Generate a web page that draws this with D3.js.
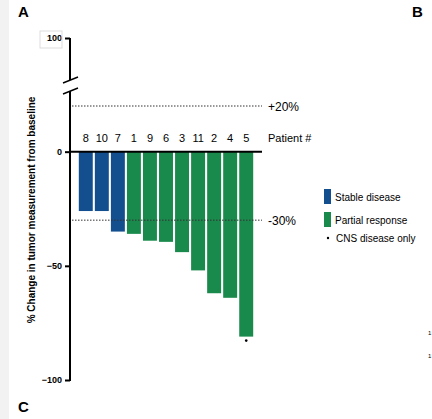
<!DOCTYPE html><html><head><meta charset="utf-8"><script src="https://cdn.jsdelivr.net/npm/d3@7"></script>
<style>body{margin:0;background:#fff}text{font-family:Arial,"Liberation Sans",sans-serif}</style></head><body><svg width="432" height="419"></svg>
<script>
const patients=["8","10","7","1","9","6","3","11","2","4","5"];
const changes=[-26,-26,-35,-36,-39,-39.5,-44,-52,-62,-64,-81];
const response=["Stable disease","Stable disease","Stable disease","Partial response","Partial response","Partial response","Partial response","Partial response","Partial response","Partial response","Partial response"];
const cnsOnly=["5"];
const yTicks=[-100,-50,0,100];
const refLines=[{v:20,label:"+20%"},{v:-30,label:"-30%"}];
const colors={"Stable disease":"#134f8f","Partial response":"#1a8a4c"};

const svg=d3.select("svg");
svg.append("rect").attr("width",9).attr("height",419).attr("fill","#f2f2f2");
const y=d3.scaleLinear().domain([-100,20,100]).range([380,106,38]);
const x=d3.scaleBand().domain(patients).range([78,254]).paddingInner(0.13).paddingOuter(0.05);
// bars
svg.selectAll("rect.bar").data(patients).join("rect").attr("class","bar")
 .attr("x",d=>x(d)).attr("width",x.bandwidth())
 .attr("y",y(0)).attr("height",(d,i)=>y(changes[i])-y(0))
 .attr("fill",(d,i)=>colors[response[i]]);
// ref lines
refLines.forEach(r=>{
 svg.append("line").attr("x1",72).attr("x2",262).attr("y1",y(r.v)).attr("y2",y(r.v))
  .attr("stroke","#333").attr("stroke-width",1).attr("stroke-dasharray","1.5,1.5");
 svg.append("text").attr("x",268).attr("y",y(r.v)+5).attr("font-size",12).text(r.label);
});
// zero line
svg.append("line").attr("x1",70).attr("x2",262).attr("y1",y(0)).attr("y2",y(0)).attr("stroke","#000").attr("stroke-width",2);
// axis
const ax=svg.append("g").attr("transform","translate(70,0)").call(d3.axisLeft(y).tickValues(yTicks).tickSize(5).tickFormat(d3.format("d")));
ax.select(".domain").remove();
ax.selectAll("line").attr("stroke-width",2);
ax.selectAll("text").attr("font-size",9).attr("font-weight","bold");
svg.append("line").attr("x1",70).attr("x2",70).attr("y1",y(100)).attr("y2",80).attr("stroke","#000").attr("stroke-width",2);
svg.append("line").attr("x1",70).attr("x2",70).attr("y1",91).attr("y2",y(-100)+1).attr("stroke","#000").attr("stroke-width",2);
[80,91].forEach(b=>svg.append("line").attr("x1",63).attr("x2",78).attr("y1",b+3).attr("y2",b-3).attr("stroke","#000").attr("stroke-width",1.5));
svg.append("rect").attr("x",40).attr("y",31).attr("width",22).attr("height",17).attr("fill","none").attr("stroke","#ddd");
// patient labels
svg.selectAll("text.pl").data(patients).join("text").attr("class","pl")
 .attr("x",d=>x(d)+x.bandwidth()/2).attr("y",142).attr("text-anchor","middle").attr("font-size",11).text(d=>d);
svg.append("text").attr("x",268).attr("y",142).attr("font-size",11).text("Patient #");
// cns dot
svg.selectAll("circle.cns").data(cnsOnly).join("circle").attr("class","cns")
 .attr("cx",d=>x(d)+x.bandwidth()/2).attr("cy",d=>y(changes[patients.indexOf(d)])+4).attr("r",1.3).attr("fill","#000");
// y label
svg.append("text").attr("transform","translate(35,210) rotate(-90)").attr("text-anchor","middle")
 .attr("font-size",10).attr("font-weight","bold").text("% Change in tumor measurement from baseline");
// legend
const leg=[{t:"Stable disease",c:colors["Stable disease"],y:197},{t:"Partial response",c:colors["Partial response"],y:220}];
leg.forEach(l=>{svg.append("rect").attr("x",324).attr("y",l.y-8).attr("width",7).attr("height",15).attr("fill",l.c);
 svg.append("text").attr("x",335).attr("y",l.y+4).attr("font-size",10).text(l.t);});
svg.append("circle").attr("cx",328).attr("cy",238).attr("r",1.2).attr("fill","#000");
svg.append("text").attr("x",336).attr("y",242).attr("font-size",10).text("CNS disease only");
// panel letters
[["A",18,17],["B",412,17],["C",18,412]].forEach(p=>svg.append("text").attr("x",p[1]).attr("y",p[2]).attr("font-size",15).attr("font-weight","bold").text(p[0]));
[335,358].forEach(v=>svg.append("text").attr("x",428).attr("y",v).attr("font-size",6).text("1"));
</script></body></html>
